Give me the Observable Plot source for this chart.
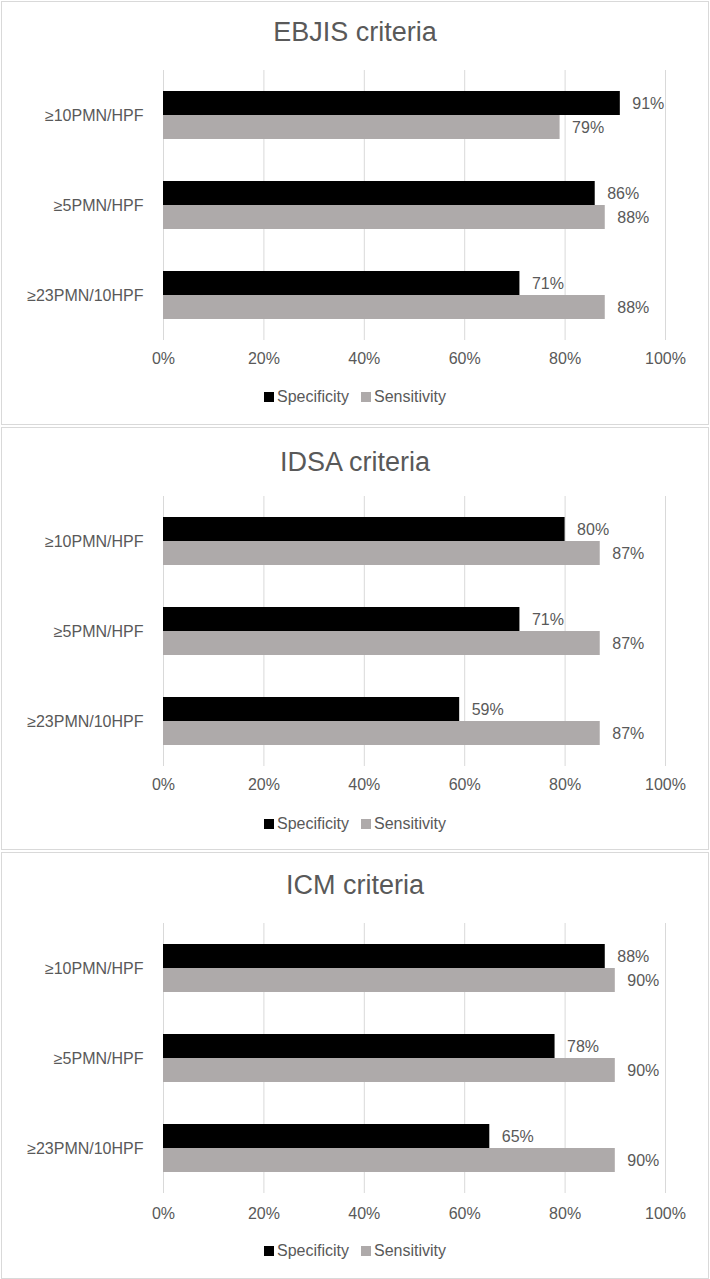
<!DOCTYPE html>
<html>
<head>
<meta charset="utf-8">
<script src="https://cdn.jsdelivr.net/npm/d3@7"></script>
<script src="https://cdn.jsdelivr.net/npm/@observablehq/plot@0.6"></script>
<style>
  html, body { margin: 0; padding: 0; background: #fff; }
  body { width: 710px; height: 1279px; position: relative; overflow: hidden;
         font-family: "Liberation Sans", Arial, sans-serif; color: #595959; }
  .panel { position: absolute; left: 1px; width: 706px; border: 1px solid #d9d9d9; background: #fff; }
  .title { position: absolute; left: 0; width: 100%; text-align: center; font-size: 27px; color: #595959; line-height: 30px; }
  .chart { position: absolute; left: -2px; top: 0; max-width: none !important; }
  .legend { position: absolute; left: 0; width: 100%; display: flex; justify-content: center; gap: 12px;
            font-size: 16px; color: #595959; line-height: 20px; }
  .legend span { display: inline-flex; align-items: center; }
  .sw { display: inline-block; width: 10px; height: 10px; margin-right: 3px; }
</style>
</head>
<body>
<script>
const categories = ["≥10PMN/HPF", "≥5PMN/HPF", "≥23PMN/10HPF"];
const seriesNames = ["Specificity", "Sensitivity"];
const seriesColors = ["#000000", "#aeaaaa"];
const panelTitles = ["EBJIS criteria", "IDSA criteria", "ICM criteria"];
const ebjisSpecificity = [91, 86, 71];
const ebjisSensitivity = [79, 88, 88];
const idsaSpecificity = [80, 71, 59];
const idsaSensitivity = [87, 87, 87];
const icmSpecificity = [88, 78, 65];
const icmSensitivity = [90, 90, 90];
const xTicks = [0, 20, 40, 60, 80, 100];

const panelValues = [
  [ebjisSpecificity, ebjisSensitivity],
  [idsaSpecificity, idsaSensitivity],
  [icmSpecificity, icmSensitivity]
];
// layout per panel: panel top, panel height, title center, grid top, tick padding, legend center
const layout = [
  {top: 1, h: 422, title: 32, grid: 70, pad: 12, legend: 397},
  {top: 427, h: 421, title: 462, grid: 496, pad: 12, legend: 824},
  {top: 852, h: 425, title: 885, grid: 923, pad: 14, legend: 1251}
];

panelValues.forEach((vals, p) => {
  const L = layout[p];
  const panel = document.createElement("div");
  panel.className = "panel";
  panel.style.top = L.top + "px";
  panel.style.height = L.h + "px";
  document.body.appendChild(panel);

  const title = document.createElement("div");
  title.className = "title";
  title.textContent = panelTitles[p];
  title.style.top = (L.title - L.top - 1 - 15) + "px";
  panel.appendChild(title);

  const data = [];
  categories.forEach((c, i) => {
    seriesNames.forEach((s, j) => data.push({category: c, series: s, value: vals[j][i] / 100}));
  });

  const chart = Plot.plot({
    width: 710,
    height: 310,
    marginLeft: 163,
    marginRight: 45,
    marginTop: 0,
    marginBottom: 40,
    style: {fontSize: "16px", color: "#595959", fontFamily: "'Liberation Sans', Arial, sans-serif", background: "transparent", maxWidth: "none"},
    x: {domain: [0, 1], ticks: xTicks.map(d => d / 100), tickFormat: d3.format(".0%"), tickSize: 0, tickPadding: L.pad, label: null},
    y: {domain: seriesNames, axis: null, paddingInner: 0, paddingOuter: 0.875},
    fy: {domain: categories, padding: 0, tickSize: 0, tickPadding: 20, label: null},
    color: {domain: seriesNames, range: seriesColors},
    marks: [
      Plot.gridX({ticks: xTicks.map(d => d / 100), stroke: "#d9d9d9", strokeOpacity: 1}),
      Plot.barX(data, {x: "value", y: "series", fy: "category", fill: "series"}),
      Plot.text(data, {x: "value", y: "series", fy: "category", text: d => Math.round(d.value * 100) + "%",
                       textAnchor: "start", dx: 12, fill: "#595959", fontSize: 16})
    ]
  });
  chart.classList.add("chart");
  chart.style.top = (L.grid - L.top - 1) + "px";
  panel.appendChild(chart);

  const legend = document.createElement("div");
  legend.className = "legend";
  legend.style.top = (L.legend - L.top - 1 - 10) + "px";
  seriesNames.forEach((s, j) => {
    const item = document.createElement("span");
    const sw = document.createElement("span");
    sw.className = "sw";
    sw.style.background = seriesColors[j];
    item.appendChild(sw);
    item.appendChild(document.createTextNode(s));
    legend.appendChild(item);
  });
  panel.appendChild(legend);
});
</script>
</body>
</html>
